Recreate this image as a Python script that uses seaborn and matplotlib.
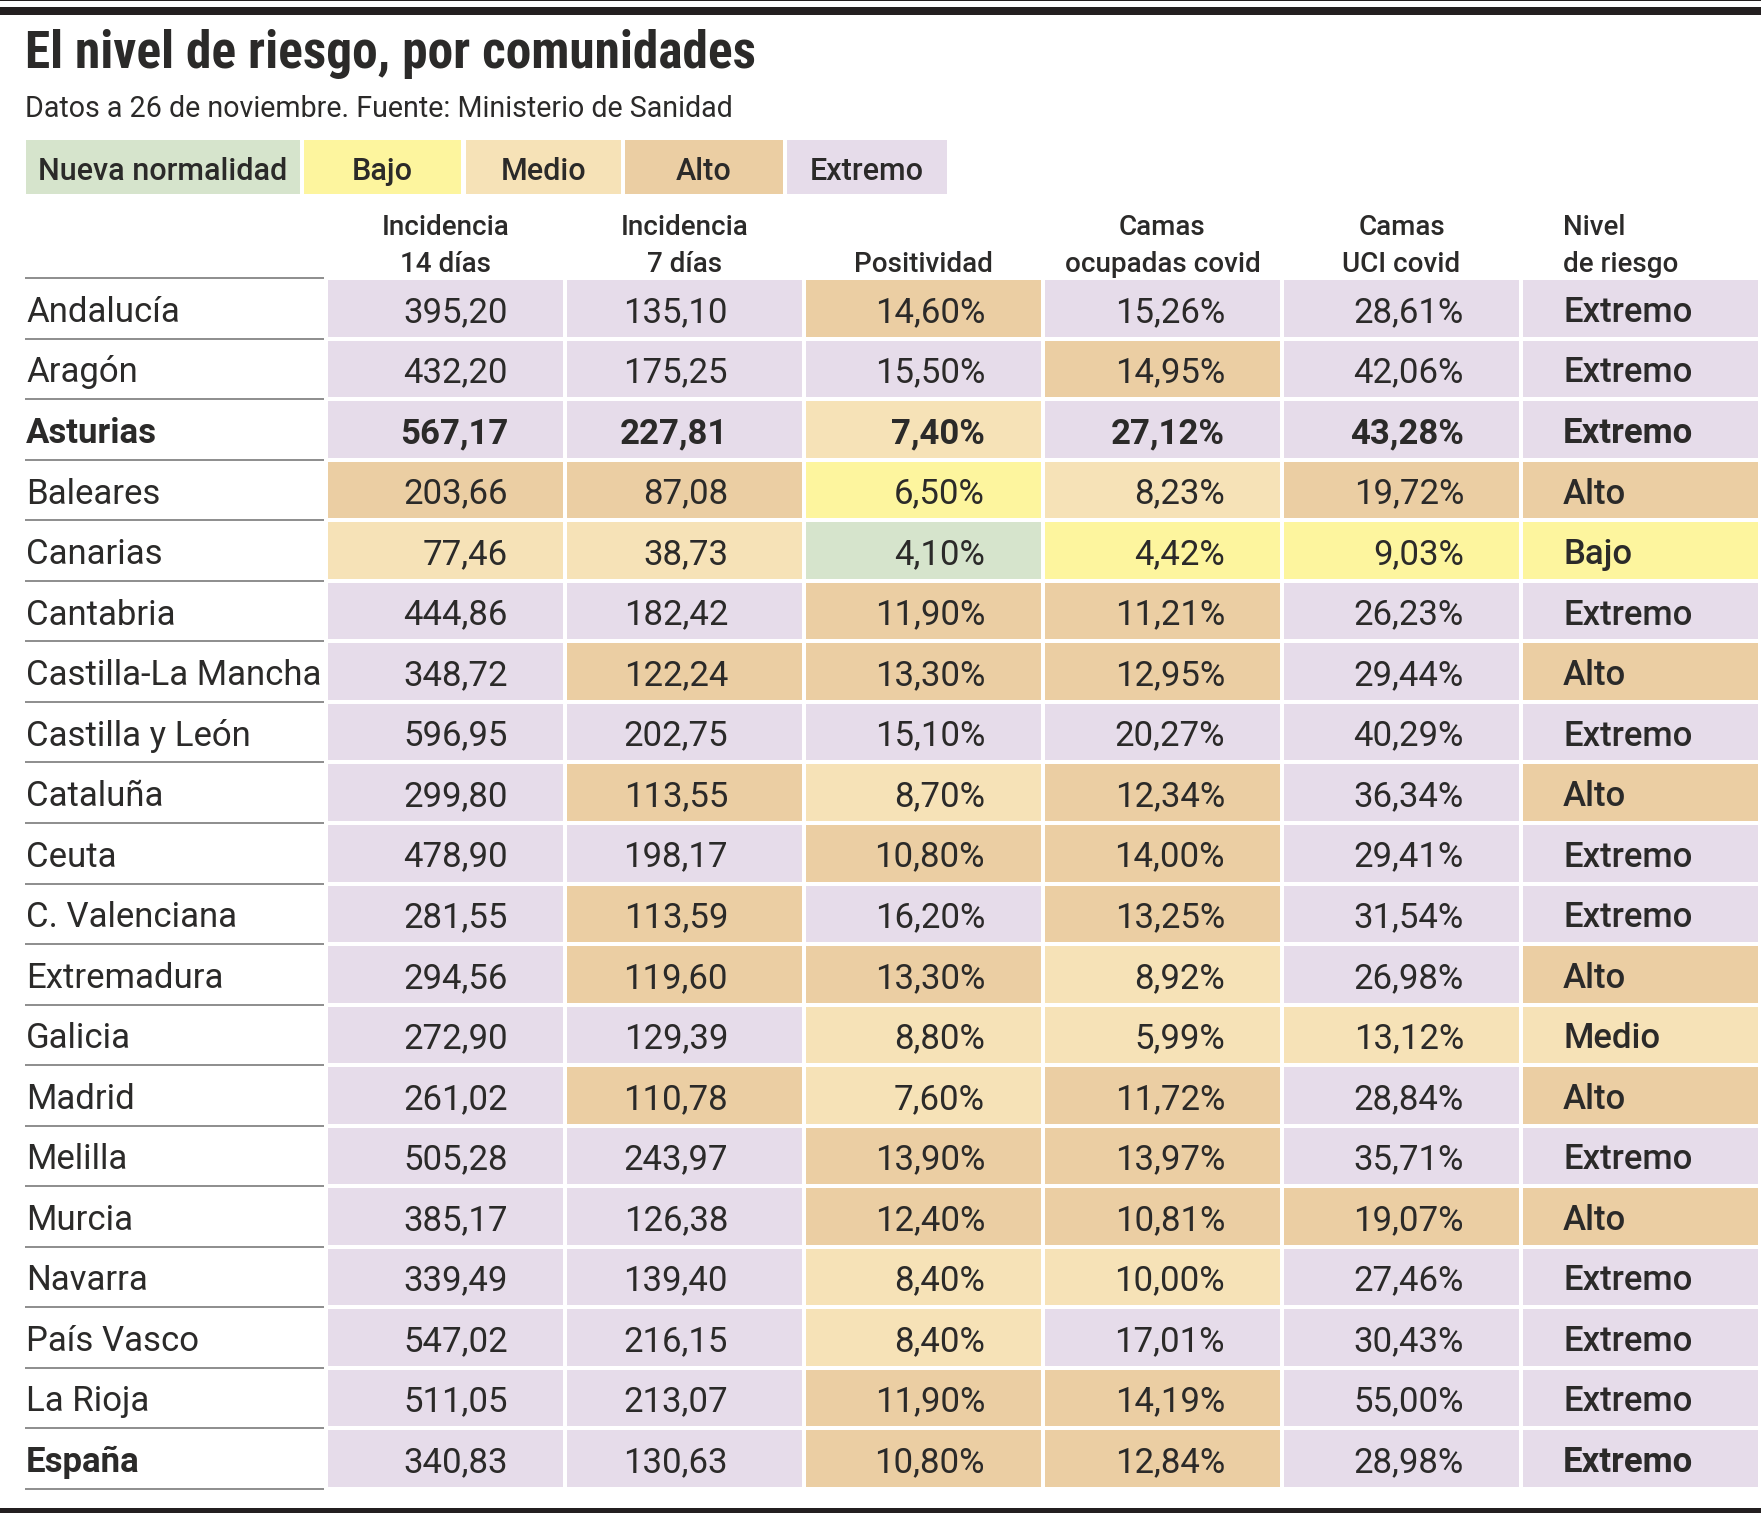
import numpy as np
import pandas as pd
import matplotlib
matplotlib.use("Agg")
import matplotlib.pyplot as plt
from matplotlib.colors import ListedColormap
from matplotlib.patches import Rectangle
from matplotlib import font_manager
import seaborn as sns

regions = ["Andalucía", "Aragón", "Asturias", "Baleares", "Canarias", "Cantabria",
           "Castilla-La Mancha", "Castilla y León", "Cataluña", "Ceuta", "C. Valenciana",
           "Extremadura", "Galicia", "Madrid", "Melilla", "Murcia", "Navarra",
           "País Vasco", "La Rioja", "España"]

inc14 = [395.20, 432.20, 567.17, 203.66, 77.46, 444.86, 348.72, 596.95, 299.80, 478.90,
         281.55, 294.56, 272.90, 261.02, 505.28, 385.17, 339.49, 547.02, 511.05, 340.83]
inc7 = [135.10, 175.25, 227.81, 87.08, 38.73, 182.42, 122.24, 202.75, 113.55, 198.17,
        113.59, 119.60, 129.39, 110.78, 243.97, 126.38, 139.40, 216.15, 213.07, 130.63]
positividad = [14.60, 15.50, 7.40, 6.50, 4.10, 11.90, 13.30, 15.10, 8.70, 10.80,
               16.20, 13.30, 8.80, 7.60, 13.90, 12.40, 8.40, 8.40, 11.90, 10.80]
camas = [15.26, 14.95, 27.12, 8.23, 4.42, 11.21, 12.95, 20.27, 12.34, 14.00,
         13.25, 8.92, 5.99, 11.72, 13.97, 10.81, 10.00, 17.01, 14.19, 12.84]
uci = [28.61, 42.06, 43.28, 19.72, 9.03, 26.23, 29.44, 40.29, 36.34, 29.41,
       31.54, 26.98, 13.12, 28.84, 35.71, 19.07, 27.46, 30.43, 55.00, 28.98]
nivel = ["Extremo", "Extremo", "Extremo", "Alto", "Bajo", "Extremo", "Alto", "Extremo",
         "Alto", "Extremo", "Extremo", "Alto", "Medio", "Alto", "Extremo", "Alto",
         "Extremo", "Extremo", "Extremo", "Extremo"]

# risk level of each cell (N=nueva normalidad, B=bajo, M=medio, A=alto, E=extremo)
lvl_inc14 = list("EEEAMEEEEEEEEEEEEEEE")
lvl_inc7 = list("EEEAMEAEAEAAEAEEEEEE")
lvl_pos = list("AEMBNAAEMAEAMMAAMMAA")
lvl_camas = list("EAEMBAAEAAAMMAAAMEAA")
lvl_uci = list("EEEABEEEEEEEMEEAEEEE")

headers = [("Incidencia", "14 días"), ("Incidencia", "7 días"), ("", "Positividad"),
           ("Camas", "ocupadas covid"), ("Camas", "UCI covid"), ("Nivel", "de riesgo")]
legend_labels = ["Nueva normalidad", "Bajo", "Medio", "Alto", "Extremo"]
level_colors = ["#d6e4cc", "#fdf59e", "#f6e2b7", "#ebcea3", "#e6dcea"]
bold_rows = ["Asturias"]
bold_labels = ["Asturias", "España"]

# ---- fonts ----
names = {f.name for f in font_manager.fontManager.ttflist}


def pick(*cands):
    for c in cands:
        if c in names:
            return c
    return "DejaVu Sans"


BODY = pick("Roboto", "Liberation Sans", "DejaVu Sans")
TITLE = pick("Liberation Sans Narrow", "Roboto Condensed", "Roboto")
title_size = 37 if TITLE != "Roboto" else 30
INK = "#2b2a29"

sns.set_style("white")
plt.rcParams["font.family"] = [BODY, "DejaVu Sans"]

W, H = 1761, 1513
fig = plt.figure(figsize=(W / 100, H / 100), dpi=100, facecolor="white")

# layout in pixels
x0, col_pitch = 326, 239
y0, row_pitch = 278.25, 60.526
n_rows, n_cols = len(regions), 6

# ---- coloured cells via seaborn heatmap ----
level_df = pd.DataFrame({"inc14": lvl_inc14, "inc7": lvl_inc7, "pos": lvl_pos,
                         "camas": lvl_camas, "uci": lvl_uci,
                         "nivel": [s[0] for s in nivel]}, index=regions)
codes = level_df.replace({"N": 0, "B": 1, "M": 2, "A": 3, "E": 4}).astype(int)

hx = fig.add_axes([x0 / W, 1 - (y0 + n_rows * row_pitch) / H,
                   n_cols * col_pitch / W, n_rows * row_pitch / H])
sns.heatmap(codes, cmap=ListedColormap(level_colors), vmin=-0.5, vmax=4.5, cbar=False,
            linewidths=2.7, linecolor="white", xticklabels=False, yticklabels=False, ax=hx)
hx.set_xlabel("")
hx.set_ylabel("")

# ---- overlay axes in pixel coordinates for text & rules ----
ax = fig.add_axes([0, 0, 1, 1])
ax.set_xlim(0, W)
ax.set_ylim(H, 0)
ax.axis("off")
ax.set_zorder(3)
ax.patch.set_visible(False)

# top and bottom rules
ax.add_patch(Rectangle((0, 0), W, 1.4, color="#231f20", lw=0))
ax.add_patch(Rectangle((0, 7.3), W, 7.7, color="#231f20", lw=0))
ax.add_patch(Rectangle((0, 1508), W, 6, color="#231f20", lw=0))

ax.text(25, 68, "El nivel de riesgo, por comunidades", fontsize=title_size,
        fontweight="heavy", family=[TITLE, "DejaVu Sans"], color=INK, va="baseline")
ax.text(25, 117, "Datos a 26 de noviembre. Fuente: Ministerio de Sanidad",
        fontsize=20.6, color=INK, va="baseline")

# legend boxes
legend_x = [(26, 300), (304, 461), (466, 621), (625, 783), (787, 947)]
for (lx0, lx1), lab, col in zip(legend_x, legend_labels, level_colors):
    ax.add_patch(Rectangle((lx0, 140), lx1 - lx0, 54, color=col, lw=0))
    ax.text((lx0 + lx1) / 2, 180, lab, fontsize=22, fontweight="medium",
            color=INK, ha="center", va="baseline")

# column headers
for j, (l1, l2) in enumerate(headers):
    cx = x0 + j * col_pitch + col_pitch / 2
    if j == n_cols - 1:
        kw = dict(x=1563, ha="left")
    else:
        kw = dict(x=cx, ha="center")
    for text, yb in ((l1, 235), (l2, 272)):
        if text:
            ax.text(kw["x"], yb, text, ha=kw["ha"], fontsize=20, fontweight="medium",
                    color=INK, va="baseline")

# row label rules
rule_y = y0 + np.arange(n_rows + 1) * row_pitch
ax.hlines(rule_y, 25, 324, color="#7a7a7a", lw=1.2)

# cell texts
num_right = [508, 728, 985, 1225, 1464]
value_cols = [inc14, inc7, positividad, camas, uci]
suffix = ["", "", "%", "%", "%"]
for i, region in enumerate(regions):
    yb = y0 + i * row_pitch + 43.7
    w_row = "bold" if region in bold_rows else "normal"
    ax.text(26, yb, region, fontsize=25, color=INK, va="baseline",
            fontweight="bold" if region in bold_labels else "normal")
    for j, vals in enumerate(value_cols):
        s = f"{vals[i]:.2f}".replace(".", ",") + suffix[j]
        ax.text(num_right[j], yb, s, fontsize=25, color=INK, ha="right",
                va="baseline", fontweight=w_row)
    ax.text(1563, yb, nivel[i], fontsize=25, color=INK, va="baseline",
            fontweight="bold" if region in bold_labels else "medium")

fig.savefig("out.png", dpi=100, facecolor="white")
